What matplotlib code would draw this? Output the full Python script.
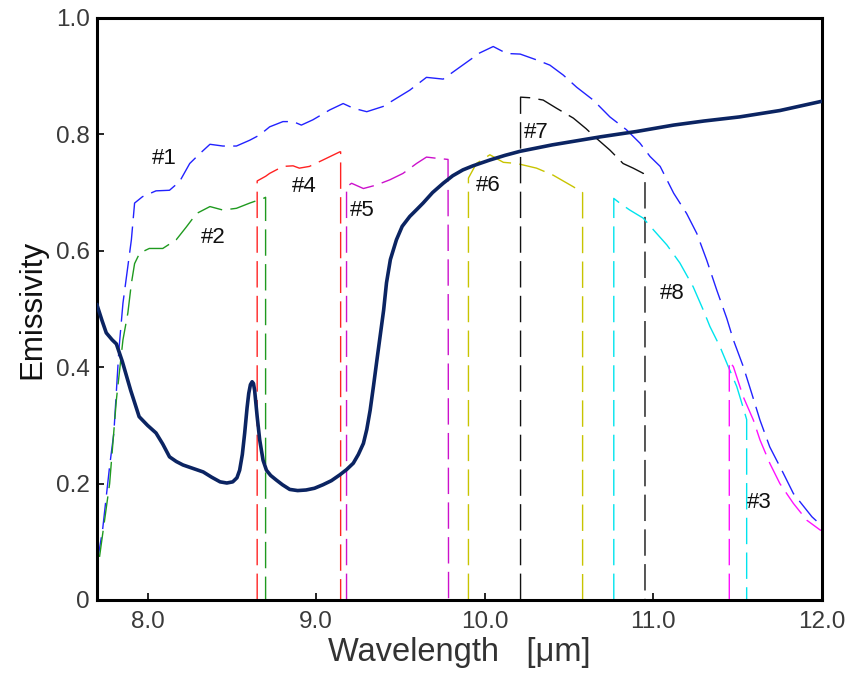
import matplotlib.pyplot as plt

plt.rcParams['font.family'] = ['Liberation Sans', 'DejaVu Sans']

# measured emissivity (solid navy curve)
main_x = [7.70, 7.73, 7.755, 7.79, 7.815, 7.85, 7.90, 7.95, 8.00, 8.05, 8.09, 8.13, 8.17,
          8.21, 8.27, 8.33, 8.38, 8.43, 8.47, 8.505, 8.53, 8.546, 8.562, 8.576, 8.59, 8.60,
          8.61, 8.62, 8.628, 8.635, 8.65, 8.665, 8.685, 8.705, 8.73, 8.764, 8.80, 8.843,
          8.89, 8.94, 8.99, 9.04, 9.09, 9.14, 9.18, 9.22, 9.25, 9.28, 9.30, 9.32, 9.34, 9.36,
          9.38, 9.40, 9.417, 9.44, 9.476, 9.51, 9.555, 9.60, 9.634, 9.69, 9.753, 9.81, 9.87,
          9.93, 10.03, 10.12, 10.21, 10.40, 10.69, 10.90, 11.12, 11.30, 11.51, 11.75, 12.0]
main_y = [0.507, 0.48, 0.459, 0.447, 0.44, 0.41, 0.36, 0.315, 0.30, 0.287, 0.268, 0.246,
          0.238, 0.232, 0.226, 0.22, 0.211, 0.203, 0.201, 0.203, 0.21, 0.223, 0.25, 0.287,
          0.33, 0.355, 0.37, 0.375, 0.372, 0.36, 0.315, 0.275, 0.24, 0.223, 0.214, 0.206,
          0.198, 0.19, 0.188, 0.189, 0.192, 0.198, 0.205, 0.215, 0.224, 0.235, 0.25, 0.269,
          0.293, 0.326, 0.368, 0.412, 0.455, 0.498, 0.545, 0.585, 0.619, 0.642, 0.659,
          0.672, 0.682, 0.70, 0.716, 0.729, 0.739, 0.746, 0.756, 0.764, 0.771, 0.782, 0.796,
          0.805, 0.816, 0.823, 0.83, 0.841, 0.857]

# filter curves (dashed)
f1_x = [7.70, 7.733, 7.775, 7.80, 7.83, 7.854, 7.904, 7.923, 7.97, 8.05, 8.13, 8.19, 8.25,
        8.31, 8.37, 8.447, 8.527, 8.606, 8.665, 8.724, 8.803, 8.863, 8.912, 8.98, 9.08,
        9.16, 9.22, 9.30, 9.397, 9.476, 9.555, 9.654, 9.753, 9.83, 9.97, 10.05, 10.13,
        10.21, 10.307, 10.386, 10.465, 10.545, 10.643, 10.742, 10.84, 10.92, 10.98, 11.04,
        11.12, 11.197, 11.257, 11.316, 11.375, 11.435, 11.474, 11.533, 11.583, 11.632,
        11.69, 11.77, 11.83, 11.94, 11.97]
f1_y = [0.063, 0.12, 0.23, 0.287, 0.43, 0.51, 0.619, 0.682, 0.693, 0.703, 0.704, 0.719, 0.75,
        0.767, 0.783, 0.78, 0.78, 0.79, 0.799, 0.813, 0.822, 0.822, 0.816, 0.825, 0.842,
        0.853, 0.845, 0.839, 0.848, 0.862, 0.876, 0.898, 0.895, 0.911, 0.94, 0.951, 0.939,
        0.938, 0.928, 0.919, 0.902, 0.881, 0.859, 0.83, 0.808, 0.785, 0.762, 0.745,
        0.699, 0.664, 0.63, 0.584, 0.533, 0.484, 0.447, 0.401, 0.355, 0.309,
        0.263, 0.218, 0.183, 0.143, 0.135]

f2_x = [7.715, 7.775, 7.815, 7.854, 7.883, 7.904, 7.923, 7.953, 8.01, 8.09, 8.17, 8.23,
        8.29, 8.37, 8.447, 8.527, 8.606, 8.695, 8.70, 8.70]
f2_y = [0.074, 0.2, 0.344, 0.447, 0.493, 0.544, 0.578, 0.596, 0.604, 0.604, 0.619, 0.641,
        0.664, 0.676, 0.67, 0.673, 0.682, 0.691, 0.692, 0.0]

f4_x = [8.65, 8.65, 8.70, 8.724, 8.803, 8.863, 8.90, 8.96, 9.04, 9.14, 9.145, 9.145]
f4_y = [0.0, 0.72, 0.728, 0.733, 0.745, 0.746, 0.742, 0.745, 0.756, 0.77, 0.77, 0.0]

f5_x = [9.18, 9.18, 9.21, 9.28, 9.357, 9.437, 9.515, 9.595, 9.654, 9.713, 9.782, 9.785]
f5_y = [0.0, 0.71, 0.716, 0.707, 0.713, 0.722, 0.733, 0.75, 0.761, 0.759, 0.757, 0.0]

f6_x = [9.903, 9.903, 9.95, 10.03, 10.11, 10.19, 10.307, 10.405, 10.525, 10.58, 10.58]
f6_y = [0.0, 0.725, 0.75, 0.765, 0.752, 0.75, 0.742, 0.73, 0.71, 0.70, 0.0]

f7_x = [10.212, 10.212, 10.267, 10.346, 10.425, 10.525, 10.60, 10.663, 10.742, 10.82,
        10.88, 10.94, 10.95, 10.95]
f7_y = [0.0, 0.864, 0.863, 0.859, 0.845, 0.828, 0.81, 0.793, 0.773, 0.75,
        0.742, 0.733, 0.722, 0.0]

f8_x = [10.765, 10.765, 10.80, 10.86, 10.94, 11.0, 11.08, 11.157, 11.236, 11.296, 11.335,
        11.395, 11.444, 11.494, 11.537, 11.553, 11.553]
f8_y = [0.0, 0.69, 0.682, 0.67, 0.656, 0.636, 0.61, 0.579, 0.538, 0.498, 0.47,
        0.435, 0.401, 0.367, 0.326, 0.31, 0.0]

f3_x = [11.45, 11.45, 11.474, 11.533, 11.593, 11.632, 11.69, 11.75, 11.83, 11.91, 11.99, 12.0]
f3_y = [0.0, 0.41, 0.401, 0.349, 0.309, 0.275, 0.235, 0.20, 0.166, 0.137, 0.12, 0.12]

labels = ['#1', '#2', '#4', '#5', '#6', '#7', '#8', '#3']
label_x = [8.10, 8.387, 8.932, 9.276, 10.018, 10.308, 11.11, 11.63]
label_y = [0.759, 0.622, 0.711, 0.67, 0.713, 0.804, 0.527, 0.167]

fig = plt.figure(figsize=(8.53, 6.74), dpi=100)
ax = fig.add_axes([0.1137, 0.1098, 0.85, 0.8635])

dash = (19, 6)
ax.plot(f1_x, f1_y, color='#2222ff', lw=1, dashes=dash)
ax.plot(f2_x, f2_y, color='#1f9a1f', lw=1, dashes=dash)
ax.plot(f4_x, f4_y, color='#ff2222', lw=1, dashes=dash)
ax.plot(f5_x, f5_y, color='#cc11cc', lw=1, dashes=dash)
ax.plot(f6_x, f6_y, color='#c8c400', lw=1, dashes=dash)
ax.plot(f7_x, f7_y, color='#111111', lw=1, dashes=dash)
ax.plot(f8_x, f8_y, color='#00e4ee', lw=1, dashes=dash)
ax.plot(f3_x, f3_y, color='#ff11ff', lw=1, dashes=dash)
ax.plot(main_x, main_y, color='#0b2462', lw=2.6, zorder=5)

for t, x, y in zip(labels, label_x, label_y):
    ax.text(x, y, t, fontsize=16, color='#111111', ha='center', va='center', zorder=6)

ax.set_xlim(7.7, 12.0)
ax.set_ylim(0, 1.0)
ax.set_xticks([8.0, 9.0, 10.0, 11.0, 12.0])
ax.set_xticklabels(['8.0', '9.0', '10.0', '11.0', '12.0'])
ax.set_yticks([0, 0.2, 0.4, 0.6, 0.8, 1.0])
ax.set_yticklabels(['0', '0.2', '0.4', '0.6', '0.8', '1.0'])
ax.tick_params(direction='in', length=5, width=1.2, labelsize=17.5, labelcolor='#3a3a3a')
ax.tick_params(axis='y', pad=5)
ax.tick_params(axis='x', pad=8)

for s in ax.spines.values():
    s.set_linewidth(2.2)

ax.set_xlabel('Wavelength   [\u03bcm]', fontsize=23.5, color='#333333', labelpad=3)
ax.set_ylabel('Emissivity', fontsize=22.5, color='#111111', labelpad=6)

fig.savefig('out.png', dpi=100)
